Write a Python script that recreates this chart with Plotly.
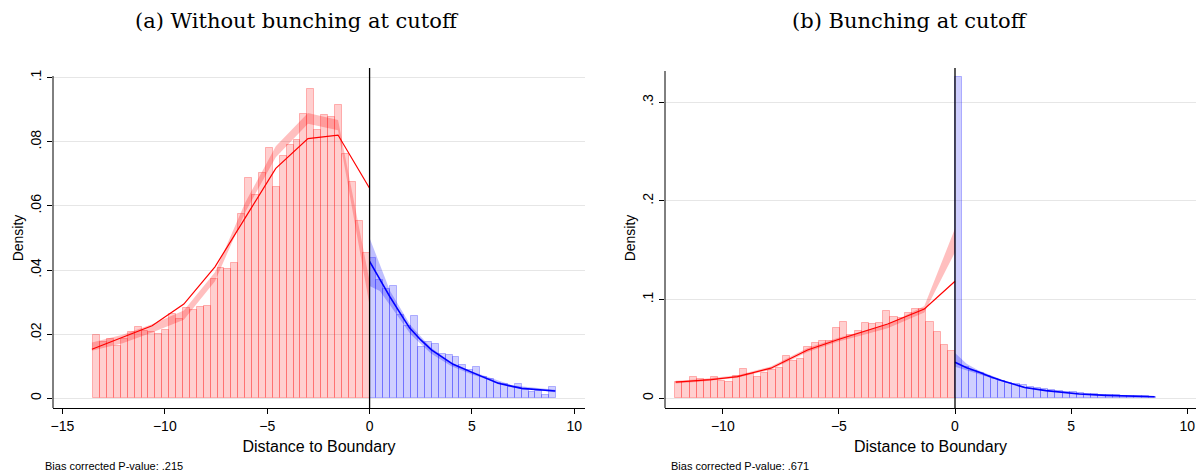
import numpy as np
import plotly.graph_objects as go

# ---------------- Data: panel (a) ----------------
a_bin_start_left = -13.5
a_bin_width = 0.3375
a_left_density = [0.0196, 0.0177, 0.0184, 0.0164, 0.0186, 0.0208, 0.0221, 0.0211, 0.0208, 0.0200,
                  0.0213, 0.0262, 0.0246, 0.0281, 0.0275, 0.0286, 0.0287, 0.0371, 0.0407, 0.0402,
                  0.0421, 0.0574, 0.0688, 0.0634, 0.0704, 0.0779, 0.0660, 0.0757, 0.0790, 0.0805,
                  0.0888, 0.0966, 0.0836, 0.0885, 0.0876, 0.0914, 0.0762, 0.0675, 0.0554, 0.0454]
a_right_density = [0.0438, 0.0368, 0.0340, 0.0350, 0.0260, 0.0226, 0.0258, 0.0161, 0.0175, 0.0168,
                   0.0138, 0.0135, 0.0128, 0.0105, 0.0088, 0.0097, 0.0068, 0.0060, 0.0048, 0.0044,
                   0.0035, 0.0044, 0.0026, 0.0021, 0.0023, 0.0011, 0.0035]
a_left_fit_x = [-13.56, -12.06, -10.62, -9.07, -7.55, -6.06, -4.58, -3.01, -1.54, 0.0]
a_left_fit_y = [0.0153, 0.0190, 0.0226, 0.0294, 0.0410, 0.0564, 0.0717, 0.0810, 0.0821, 0.0655]
a_left_ci_x = [-13.56, -12.06, -10.62, -9.07, -7.55, -6.06, -4.58, -3.01, -1.54, 0.0]
a_left_ci_lo = [0.0148, 0.0172, 0.0205, 0.0245, 0.0365, 0.0582, 0.0752, 0.0856, 0.0836, 0.0290]
a_left_ci_hi = [0.0174, 0.0198, 0.0231, 0.0274, 0.0393, 0.0612, 0.0786, 0.0890, 0.0868, 0.0365]
a_right_fit_x = [0.0, 0.5, 0.98, 1.5, 1.96, 2.5, 3.02, 4.08, 4.66, 5.15, 6.28, 7.43, 9.07]
a_right_fit_y = [0.0427, 0.0370, 0.0318, 0.0265, 0.0219, 0.0182, 0.0151, 0.0106, 0.0089, 0.0077, 0.0047, 0.0031, 0.0023]
a_right_ci_x = [0.0, 0.5, 1.0, 2.0, 3.0, 4.0, 5.0, 7.0, 9.07]
a_right_ci_lo = [0.0350, 0.0335, 0.0290, 0.0200, 0.0140, 0.0100, 0.0074, 0.0033, 0.0019]
a_right_ci_hi = [0.0500, 0.0415, 0.0335, 0.0228, 0.0158, 0.0112, 0.0084, 0.0040, 0.0027]

# ---------------- Data: panel (b) ----------------
b_bin_start_left = -12.05
b_bin_width = 0.309
b_left_density = [0.0163, 0.0169, 0.0220, 0.0200, 0.0186, 0.0220, 0.0176, 0.0166, 0.0224, 0.0295,
                  0.0244, 0.0220, 0.0254, 0.0285, 0.0305, 0.0424, 0.0373, 0.0397, 0.0515, 0.0560,
                  0.0580, 0.0583, 0.0708, 0.0773, 0.0644, 0.0685, 0.0759, 0.0753, 0.0759, 0.0881,
                  0.0820, 0.0814, 0.0861, 0.0902, 0.0905, 0.0773, 0.0671, 0.0536, 0.0481]
b_right_density = [0.3260, 0.0320, 0.0280, 0.0254, 0.0227, 0.0200, 0.0176, 0.0160, 0.0148, 0.0136,
                   0.0119, 0.0108, 0.0095, 0.0085, 0.0078, 0.0068, 0.0061, 0.0054, 0.0047, 0.0044,
                   0.0037, 0.0034, 0.0030, 0.0027, 0.0024, 0.0022, 0.0020, 0.0018]
b_left_fit_x = [-12.03, -11.0, -10.5, -9.37, -7.93, -6.35, -5.06, -2.9, -1.32, 0.0]
b_left_fit_y = [0.0163, 0.0180, 0.0190, 0.0220, 0.0305, 0.0490, 0.0593, 0.0753, 0.0905, 0.1186]
b_left_ci_x = [-12.03, -11.0, -9.37, -7.93, -6.35, -5.06, -4.0, -2.9, -1.32, 0.0]
b_left_ci_lo = [0.0150, 0.0168, 0.0208, 0.0290, 0.0470, 0.0572, 0.0640, 0.0710, 0.0870, 0.1480]
b_left_ci_hi = [0.0178, 0.0194, 0.0234, 0.0322, 0.0510, 0.0612, 0.0680, 0.0750, 0.0935, 0.1720]
b_right_fit_x = [0.0, 0.5, 1.05, 1.5, 2.0, 2.49, 3.0, 3.92, 4.5, 5.35, 6.5, 8.09, 8.6]
b_right_fit_y = [0.0366, 0.0310, 0.0264, 0.0220, 0.0180, 0.0146, 0.0110, 0.0078, 0.0063, 0.0044, 0.0030, 0.0017, 0.0015]
b_right_ci_x = [0.0, 0.5, 1.0, 2.0, 3.0, 4.0, 6.0, 8.6]
b_right_ci_lo = [0.0320, 0.0285, 0.0245, 0.0172, 0.0105, 0.0072, 0.0032, 0.0012]
b_right_ci_hi = [0.0460, 0.0350, 0.0285, 0.0190, 0.0117, 0.0080, 0.0038, 0.0019]

titles = ["(a) Without bunching at cutoff", "(b) Bunching at cutoff"]
notes = ["Bias corrected P-value: .215", "Bias corrected P-value: .671"]
x_label = "Distance to Boundary"
y_label = "Density"
a_xticks = [-15, -10, -5, 0, 5, 10]
a_yticks = [0, 0.02, 0.04, 0.06, 0.08, 0.1]
a_yticklabels = ["0", ".02", ".04", ".06", ".08", ".1"]
b_xticks = [-10, -5, 0, 5, 10]
b_yticks = [0, 0.1, 0.2, 0.3]
b_yticklabels = ["0", ".1", ".2", ".3"]

# ---------------- Styling ----------------
W, H = 1196, 476
RED_FILL = "rgba(255,0,0,0.19)"
RED_EDGE = "rgba(255,0,0,0.26)"
BLUE_FILL = "rgba(0,0,255,0.19)"
BLUE_EDGE = "rgba(0,0,255,0.26)"
RED_BAND = "rgba(255,0,0,0.25)"
BLUE_BAND = "rgba(0,0,255,0.25)"
GRID = "#e6e6e6"
SANS = "Liberation Sans, Arial, sans-serif"
SERIF = "DejaVu Serif, serif"

fig = go.Figure()


def add_panel(xa, ya, start_l, width, dens_l, dens_r, fl_x, fl_y, cl_x, cl_lo, cl_hi,
              fr_x, fr_y, cr_x, cr_lo, cr_hi):
    n_l = len(dens_l)
    n_r = len(dens_r)
    centers_l = start_l + width * (np.arange(n_l) + 0.5)
    centers_r = width * (np.arange(n_r) + 0.5)
    fig.add_trace(go.Bar(x=centers_l, y=dens_l, width=width, xaxis=xa, yaxis=ya,
                         marker=dict(color=RED_FILL, line=dict(color=RED_EDGE, width=1)),
                         showlegend=False, hoverinfo="skip"))
    fig.add_trace(go.Bar(x=centers_r, y=dens_r, width=width, xaxis=xa, yaxis=ya,
                         marker=dict(color=BLUE_FILL, line=dict(color=BLUE_EDGE, width=1)),
                         showlegend=False, hoverinfo="skip"))
    # confidence bands
    for cx, lo, hi, col in [(cl_x, cl_lo, cl_hi, RED_BAND), (cr_x, cr_lo, cr_hi, BLUE_BAND)]:
        fig.add_trace(go.Scatter(x=cx, y=hi, mode="lines", line=dict(width=0, color=col),
                                 xaxis=xa, yaxis=ya, showlegend=False, hoverinfo="skip"))
        fig.add_trace(go.Scatter(x=cx, y=lo, mode="lines", line=dict(width=0, color=col),
                                 fill="tonexty", fillcolor=col,
                                 xaxis=xa, yaxis=ya, showlegend=False, hoverinfo="skip"))
    fig.add_trace(go.Scatter(x=fl_x, y=fl_y, mode="lines", line=dict(color="#ff0000", width=1.2),
                             xaxis=xa, yaxis=ya, showlegend=False, hoverinfo="skip"))
    fig.add_trace(go.Scatter(x=fr_x, y=fr_y, mode="lines", line=dict(color="#0000ff", width=1.6),
                             xaxis=xa, yaxis=ya, showlegend=False, hoverinfo="skip"))


add_panel("x", "y", a_bin_start_left, a_bin_width, a_left_density, a_right_density,
          a_left_fit_x, a_left_fit_y, a_left_ci_x, a_left_ci_lo, a_left_ci_hi,
          a_right_fit_x, a_right_fit_y, a_right_ci_x, a_right_ci_lo, a_right_ci_hi)
add_panel("x2", "y2", b_bin_start_left, b_bin_width, b_left_density, b_right_density,
          b_left_fit_x, b_left_fit_y, b_left_ci_x, b_left_ci_lo, b_left_ci_hi,
          b_right_fit_x, b_right_fit_y, b_right_ci_x, b_right_ci_lo, b_right_ci_hi)

# plot-area geometry (pixels)
top_px, bot_px = 68, 408
a_l, a_r = 53, 585
b_l, b_r = 665, 1196
ydom = [1 - bot_px / H, 1 - top_px / H]

xcommon = dict(showgrid=False, zeroline=False, showline=True, linecolor="black", linewidth=1,
               ticks="outside", ticklen=5, tickcolor="black", automargin=False,
               tickfont=dict(family=SANS, size=14, color="black"),
               title=dict(text=x_label, font=dict(family=SANS, size=16, color="black"), standoff=8))
ycommon = dict(showgrid=True, gridcolor=GRID, gridwidth=1, zeroline=False, showline=False,
               ticks="outside", ticklen=5, tickcolor="black", tickangle=-90, automargin=False,
               tickfont=dict(family=SANS, size=14, color="black"),
               title=dict(text=y_label, font=dict(family=SANS, size=14, color="black"), standoff=1))

fig.update_layout(
    width=W, height=H, margin=dict(l=0, r=0, t=0, b=0, autoexpand=False),
    paper_bgcolor="white", plot_bgcolor="white", barmode="overlay", bargap=0,
    xaxis=dict(xcommon, domain=[a_l / W, a_r / W], range=[-15.46, 10.52], tickvals=a_xticks,
               anchor="y"),
    yaxis=dict(ycommon, domain=ydom, range=[-0.00302, 0.1030], tickvals=a_yticks,
               ticktext=a_yticklabels, anchor="x"),
    xaxis2=dict(xcommon, domain=[b_l / W, b_r / W], range=[-12.49, 10.38], tickvals=b_xticks,
                anchor="y2"),
    yaxis2=dict(ycommon, domain=ydom, range=[-0.00983, 0.3347], tickvals=b_yticks,
                ticktext=b_yticklabels, anchor="x2"),
)

shapes = []
# y axis lines
shapes.append(dict(type="line", xref="x domain", yref="paper", x0=0, x1=0,
                   y0=ydom[0], y1=1 - 76 / H, line=dict(color="black", width=1)))
shapes.append(dict(type="line", xref="x2 domain", yref="paper", x0=0, x1=0,
                   y0=ydom[0], y1=1 - 71 / H, line=dict(color="black", width=1)))
# cutoff lines
shapes.append(dict(type="line", xref="x", yref="y domain", x0=0, x1=0, y0=0, y1=1,
                   line=dict(color="black", width=1.3), layer="above"))
shapes.append(dict(type="line", xref="x2", yref="y2 domain", x0=0, x1=0, y0=0, y1=1,
                   line=dict(color="black", width=1.3), layer="above"))
fig.update_layout(shapes=shapes)

ann = []
for cx, t in zip([297, 910], titles):
    ann.append(dict(text=t, x=cx / W, y=1 - 21 / H, xref="paper", yref="paper",
                    xanchor="center", yanchor="middle", showarrow=False,
                    font=dict(family=SERIF, size=21, color="black")))
for x0, t in zip([43, 669], notes):
    ann.append(dict(text=t, x=x0 / W, y=1 - 466 / H, xref="paper", yref="paper",
                    xanchor="left", yanchor="middle", showarrow=False,
                    font=dict(family=SANS, size=11, color="black")))
fig.update_layout(annotations=ann)

fig.write_html("out.html", config={"displayModeBar": False},
               post_script="document.body.style.margin='0';document.body.style.overflow='hidden';")
